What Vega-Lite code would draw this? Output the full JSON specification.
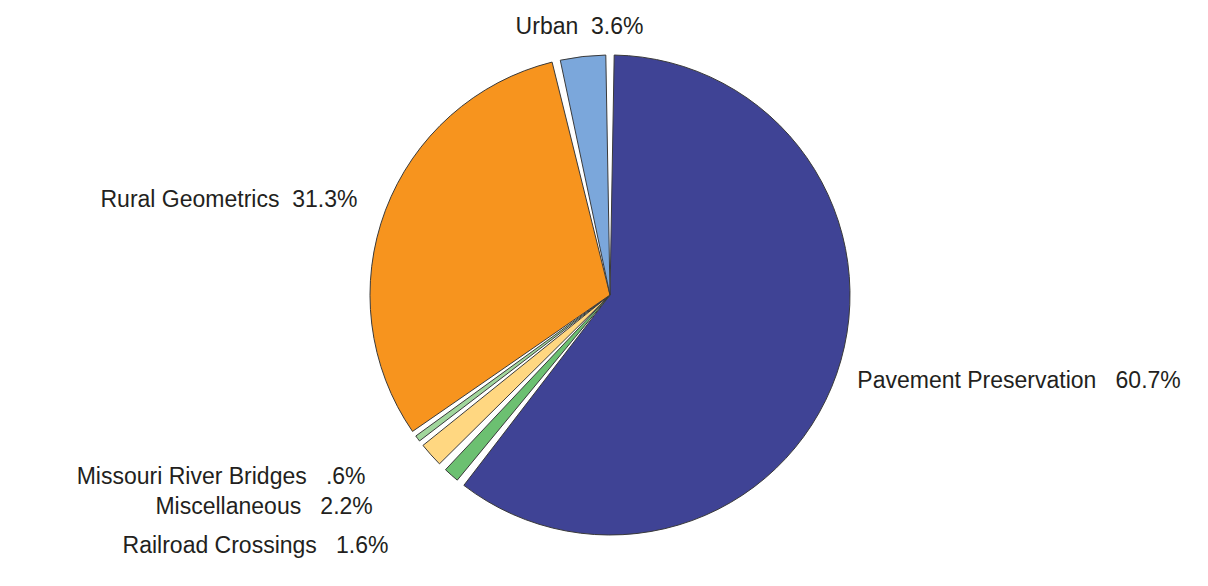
{
  "$schema": "https://vega.github.io/schema/vega-lite/v6.json",
  "width": 800,
  "height": 550,
  "autosize": "none",
  "padding": {"left": 210, "top": 20, "right": 198, "bottom": 16},
  "background": "white",
  "config": {"view": {"stroke": null}},
  "data": {
    "values": [
      {"name": "Pavement Preservation", "value": 60.7, "order": 1, "label": "Pavement Preservation\u00a0\u00a0 60.7%"},
      {"name": "Railroad Crossings", "value": 1.6, "order": 2, "label": "Railroad Crossings\u00a0\u00a0 1.6%"},
      {"name": "Miscellaneous", "value": 2.2, "order": 3, "label": "Miscellaneous\u00a0\u00a0 2.2%"},
      {"name": "Missouri River Bridges", "value": 0.6, "order": 4, "label": "Missouri River Bridges\u00a0\u00a0 .6%"},
      {"name": "Rural Geometrics", "value": 31.3, "order": 5, "label": "Rural Geometrics\u00a0 31.3%"},
      {"name": "Urban", "value": 3.6, "order": 6, "label": "Urban\u00a0 3.6%"}
    ]
  },
  "encoding": {
    "theta": {"field": "value", "type": "quantitative", "stack": true},
    "order": {"field": "order", "type": "quantitative"}
  },
  "layer": [
    {
      "mark": {
        "type": "arc",
        "outerRadius": 240,
        "stroke": "#3a3a3a",
        "strokeWidth": 1,
        "padAngle": {"expr": "datum.name === 'Missouri River Bridges' ? 0.012 : 0.035"}
      },
      "encoding": {
        "color": {
          "field": "name",
          "type": "nominal",
          "scale": {
            "domain": ["Pavement Preservation", "Railroad Crossings", "Miscellaneous", "Missouri River Bridges", "Rural Geometrics", "Urban"],
            "range": ["#3f4395", "#6cc071", "#ffd781", "#a1d69c", "#f7941e", "#7ba7db"]
          },
          "legend": null
        }
      }
    },
    {
      "mark": {
        "type": "text",
        "radius": {"expr": "datum.name === 'Railroad Crossings' ? 335 : (datum.name === 'Miscellaneous' ? 318 : (datum.name === 'Missouri River Bridges' ? 305 : (datum.name === 'Pavement Preservation' ? 262 : 270)))"},
        "fontSize": 23,
        "font": "Liberation Sans",
        "color": "#231f20",
        "baseline": "middle",
        "align": {"expr": "datum.name === 'Pavement Preservation' ? 'left' : (datum.name === 'Urban' ? 'center' : 'right')"}
      },
      "encoding": {"text": {"field": "label", "type": "nominal"}}
    }
  ]
}
